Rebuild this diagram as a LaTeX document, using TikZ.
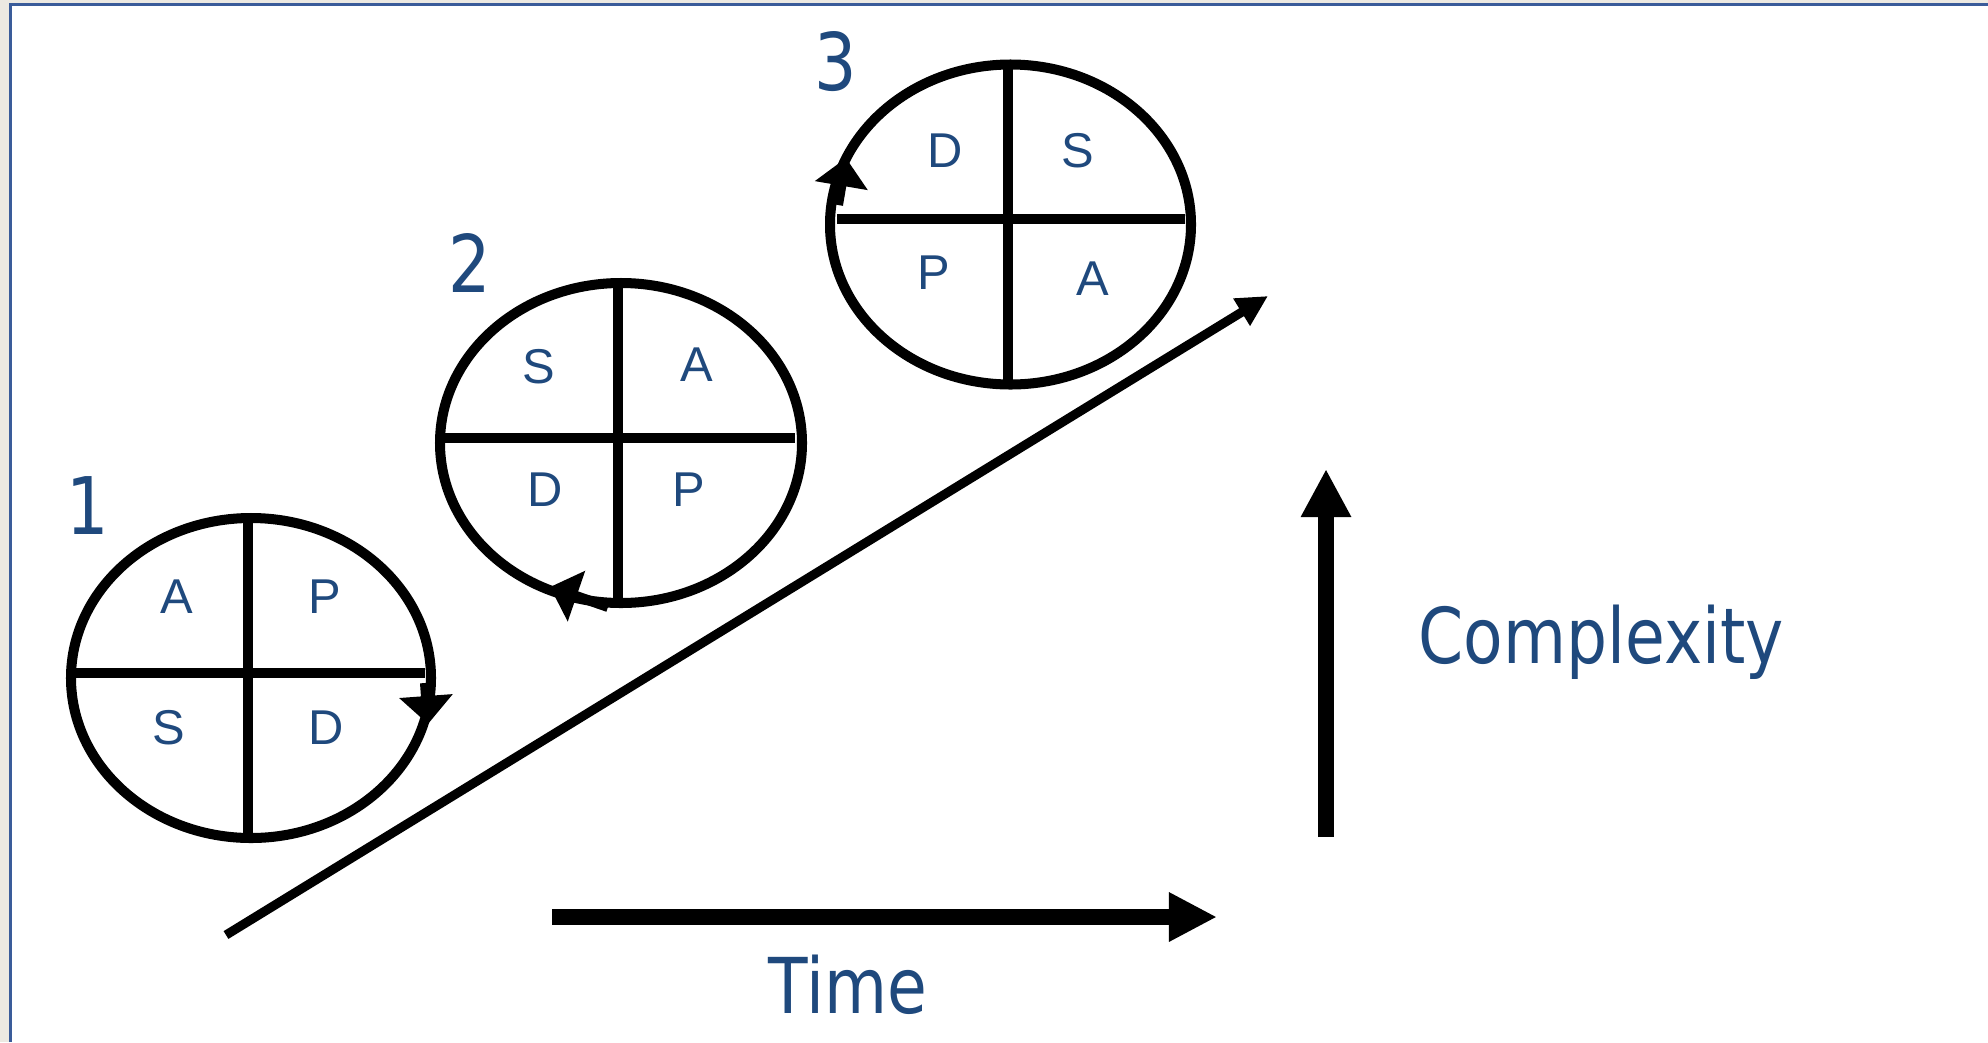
\documentclass[tikz,border=0pt]{standalone}
\usepackage{fontspec}
\usetikzlibrary{arrows.meta}
\newfontfamily\cyclefont{Liberation Sans}
\newfontfamily\axisfont[FakeStretch=0.84]{DejaVu Sans}
\definecolor{txtblue}{RGB}{31,73,125}
\definecolor{frameblue}{RGB}{58,92,154}
\definecolor{pagegray}{RGB}{236,233,226}

\begin{document}
\begin{tikzpicture}[x=0.01cm, y=-0.01cm,
  ring/.style={line width=2.85pt},
  turn/.style={line width=2.85pt, -{Triangle[length=0.28cm, width=0.52cm]}},
  quad/.style={text=txtblue, inner sep=0pt, font=\cyclefont\fontsize{13.9}{15}\selectfont},
  num/.style={text=txtblue, inner sep=0pt, font=\axisfont\fontsize{22.6}{24}\selectfont},
  axislabel/.style={text=txtblue, inner sep=0pt, font=\axisfont\fontsize{21.9}{24}\selectfont}]
\useasboundingbox (0,0) rectangle (1988,1042);
% page and frame
\fill[pagegray] (0,0) rectangle (1988,1042);
\fill[white] (9,3) rectangle (1988,1042);
\draw[frameblue, line width=0.85pt] (10.5,1042) -- (10.5,4.5) -- (1988,4.5);
% centres of the three cycles
\coordinate (C1) at (251,678);
\coordinate (C2) at (621,443);
\coordinate (C3) at (1010.5,224.5);
% cycle 1
\draw[ring] (C1) ellipse [x radius=180, y radius=160];
\draw[ring] (248,518) -- (248,838);
\draw[ring] (71,673) -- (425,673);
\draw[turn] (425,683) -- (428,724);
\node[quad] (a1) at (177,597) {A};
\node[quad] (p1) at (325,597) {P};
\node[quad] (s1) at (169,728) {S};
\node[quad] (d1) at (326,728) {D};
\node[num] (n1) at (88,506) {1};
% cycle 2
\draw[ring] (C2) ellipse [x radius=181, y radius=160];
\draw[ring] (618,283) -- (618,603);
\draw[ring] (440,438) -- (795,438);
\draw[turn] (608,607) -- (550,587);
\node[quad] (s2) at (539,367) {S};
\node[quad] (a2) at (697,365) {A};
\node[quad] (d2) at (545,490) {D};
\node[quad] (p2) at (689,490) {P};
\node[num] (n2) at (470,263) {2};
% cycle 3
\draw[ring] (C3) ellipse [x radius=180.5, y radius=160];
\draw[ring] (1008,64) -- (1008,385);
\draw[ring] (837,219) -- (1185,219);
\draw[turn] (838,205) -- (846,158);
\node[quad] (d3) at (945,151) {D};
\node[quad] (s3) at (1078,151) {S};
\node[quad] (p3) at (934,273) {P};
\node[quad] (a3) at (1093,279) {A};
\node[num] (n3) at (836,62) {3};
% progress and axes
\draw[line width=2.6pt, -{Triangle[length=0.31cm, width=0.30cm]}] (226,935) -- (1268,296);
\draw[line width=4.3pt, -{Triangle[length=0.48cm, width=0.46cm]}] (552,917) -- (1217,917);
\draw[line width=4.4pt, -{Triangle[length=0.48cm, width=0.47cm]}] (1326,837) -- (1326,469);
\node[axislabel, anchor=base west] (time) at (768,1013) {Time};
\node[axislabel, anchor=base west] (cplx) at (1418,663) {Complexity};
\end{tikzpicture}
\end{document}
